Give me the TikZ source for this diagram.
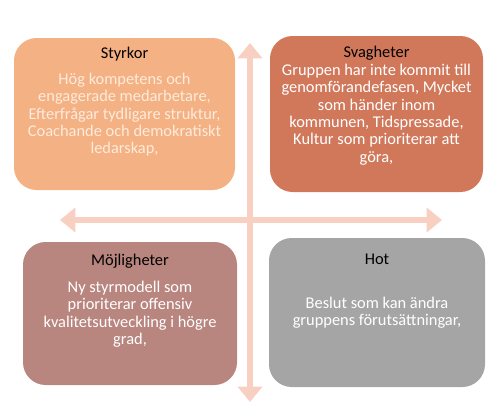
\documentclass[tikz,border=0pt]{standalone}
\usepackage{fontspec}
\setmainfont{Carlito}
\usetikzlibrary{arrows.meta, positioning}
\definecolor{swotpeach}{HTML}{F4B183}
\definecolor{swotrust}{HTML}{D1785B}
\definecolor{swotrose}{HTML}{B8857F}
\definecolor{swotgray}{HTML}{A5A5A5}
\definecolor{swotaxis}{HTML}{F8D0C2}
\definecolor{swotcream}{HTML}{FDEBDC}
\tikzset{
  swotbox/.style={rectangle, rounded corners=17pt, draw=none, inner sep=0pt},
  boxtitle/.style={inner sep=0pt, font=\fontsize{12.3}{13}\selectfont, text=black, anchor=base},
  boxtext/.style={inner sep=0pt, font=\fontsize{12.3}{13}\selectfont, align=center, text=white, anchor=north},
  axisarrow/.style={{Triangle[width=18pt, length=11.5pt]}-{Triangle[width=18pt, length=11.5pt]},
    line width=4.5pt, swotaxis},
}

\begin{document}
\begin{tikzpicture}[x=0.75pt, y=-0.75pt]
    \useasboundingbox (0,0) rectangle (503,414);
    % Axes
    \coordinate (ntip) at (250,43);
    \coordinate (stip) at (250,402);
    \coordinate (wtip) at (60,220);
    \coordinate (etip) at (442,220);
    \draw[axisarrow] (ntip) -- (stip);
    \draw[axisarrow] (wtip) -- (etip);

    % Styrkor
    \node[swotbox, fill=swotpeach, minimum width=165.75pt, minimum height=114pt] (styrkor) at (124.5,114) {};
    \node[boxtitle, below=15.75pt of styrkor.north, anchor=base] (styrkorT) {Styrkor};
    \node[boxtext, text=swotcream, below=10.5pt of styrkorT.base, anchor=north] (styrkorB)
      {Hög kompetens och\\engagerade medarbetare,\\Efterfrågar tydligare struktur,\\Coachande och demokratiskt\\ledarskap,};

    % Svagheter
    \node[swotbox, fill=swotrust, minimum width=159.75pt, minimum height=117pt] (svagheter) at (376.5,114) {};
    \node[boxtitle, below=16.5pt of svagheter.north, anchor=base] (svagheterT) {Svagheter};
    \node[boxtext, below=4.5pt of svagheterT.base, anchor=north] (svagheterB)
      {Gruppen har inte kommit till\\genomförandefasen, Mycket\\som händer inom\\kommunen, Tidspressade,\\Kultur som prioriterar att\\göra,};

    % Möjligheter
    \node[swotbox, fill=swotrose, minimum width=160.5pt, minimum height=107.25pt] (mojligheter) at (130,313.5) {};
    \node[boxtitle, below=18pt of mojligheter.north, anchor=base] (mojligheterT) {Möjligheter};
    \node[boxtext, below=11.25pt of mojligheterT.base, anchor=north] (mojligheterB)
      {Ny styrmodell som\\prioriterar offensiv\\kvalitetsutveckling i högre\\grad,};

    % Hot
    \node[swotbox, fill=swotgray, minimum width=162pt, minimum height=111.75pt] (hot) at (377,312.5) {};
    \node[boxtitle, below=20.25pt of hot.north, anchor=base] (hotT) {Hot};
    \node[boxtext, below=24pt of hotT.base, anchor=north] (hotB)
      {Beslut som kan ändra\\gruppens förutsättningar,};
\end{tikzpicture}
\end{document}
